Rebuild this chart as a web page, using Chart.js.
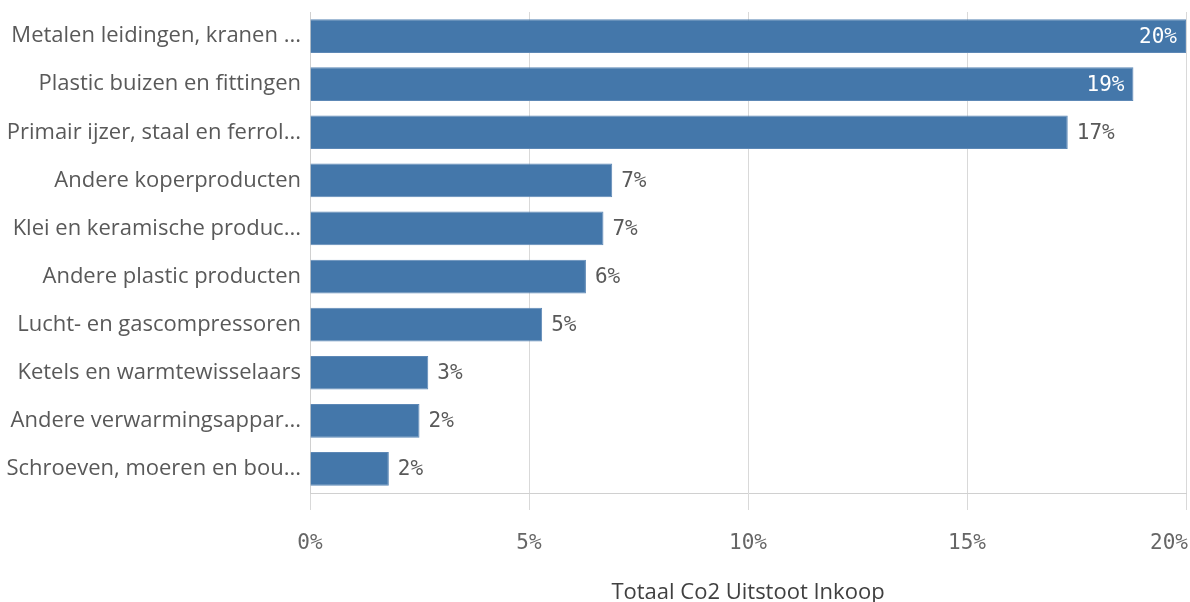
<!DOCTYPE html>
<html>
<head>
<meta charset="utf-8">
<script src="https://cdn.jsdelivr.net/npm/chart.js@4"></script>
<style>
html,body{margin:0;padding:0;background:#fff;}
#wrap{width:1190px;height:602px;position:relative;}
</style>
</head>
<body>
<div id="wrap"><canvas id="c" width="1190" height="602"></canvas></div>
<script>
const categories = [
  "Metalen leidingen, kranen ...",
  "Plastic buizen en fittingen",
  "Primair ijzer, staal en ferrol...",
  "Andere koperproducten",
  "Klei en keramische produc...",
  "Andere plastic producten",
  "Lucht- en gascompressoren",
  "Ketels en warmtewisselaars",
  "Andere verwarmingsappar...",
  "Schroeven, moeren en bou..."
];
const values = [20.0, 18.8, 17.3, 6.9, 6.7, 6.3, 5.3, 2.7, 2.5, 1.8];
const valueLabels = ["20%", "19%", "17%", "7%", "7%", "6%", "5%", "3%", "2%", "2%"];
const xTickValues = [0, 5, 10, 15, 20];
const xTickLabels = ["0%", "5%", "10%", "15%", "20%"];
const axisTitle = "Totaal Co2 Uitstoot Inkoop";

const MONO = '"DejaVu Sans Mono", monospace';
const SANS = '"Open Sans", Lato, sans-serif';

const labelPlugin = {
  id: 'labels',
  afterDatasetsDraw(chart) {
    const ctx = chart.ctx;
    const meta = chart.getDatasetMeta(0);
    const area = chart.chartArea;
    ctx.save();
    ctx.font = '21px ' + MONO;
    ctx.textBaseline = 'middle';
    meta.data.forEach((bar, i) => {
      const txt = valueLabels[i];
      const w = ctx.measureText(txt).width;
      const endX = bar.x;
      if (endX + 9 + w > area.right - 20) {
        ctx.fillStyle = '#ffffff';
        ctx.textAlign = 'right';
        ctx.fillText(txt, endX - 9, bar.y + 1);
      } else {
        ctx.fillStyle = '#595959';
        ctx.textAlign = 'left';
        ctx.fillText(txt, endX + 9, bar.y + 1);
      }
    });
    const xs = chart.scales.x;
    ctx.font = '21px ' + MONO;
    ctx.fillStyle = '#666666';
    ctx.textAlign = 'center';
    xTickValues.forEach((v, i) => {
      const txt = xTickLabels[i];
      const w = ctx.measureText(txt).width;
      let px = xs.getPixelForValue(v);
      px = Math.min(px, chart.width - 2 - w / 2);
      ctx.fillText(txt, px, 544);
    });
    ctx.restore();
  }
};

new Chart(document.getElementById('c'), {
  type: 'bar',
  data: {
    labels: categories,
    datasets: [{
      data: values,
      backgroundColor: '#4477aa',
      borderColor: '#5d88b6',
      borderWidth: 1,
      barPercentage: 0.7,
      categoryPercentage: 1.0
    }]
  },
  options: {
    indexAxis: 'y',
    responsive: false,
    animation: false,
    layout: { padding: { top: 12, right: 4, left: 0, bottom: 0 } },
    plugins: { legend: { display: false }, tooltip: { enabled: false } },
    scales: {
      x: {
        min: 0, max: 20,
        ticks: { display: false, stepSize: 5 },
        grid: { color: '#d9d9d9', lineWidth: 1, drawTicks: true, tickLength: 17, tickColor: '#d9d9d9' },
        border: { display: true, color: '#d0d0d0', width: 1 },
        title: { display: true, text: axisTitle, color: '#404040', font: { family: SANS, size: 22 }, padding: { top: 0, bottom: -4 } },
        afterFit(scale) { scale.height = 109; scale.paddingLeft = 0; scale.paddingRight = 0; }
      },
      y: {
        ticks: { color: '#595959', font: { family: SANS, size: 22 }, padding: 9 },
        grid: { display: false, drawTicks: false },
        border: { display: true, color: '#d0d0d0', width: 1 },
        afterFit(scale) { scale.width = 310; scale.paddingTop = 0; scale.paddingBottom = 0; }
      }
    }
  },
  plugins: [labelPlugin]
});
</script>
</body>
</html>
